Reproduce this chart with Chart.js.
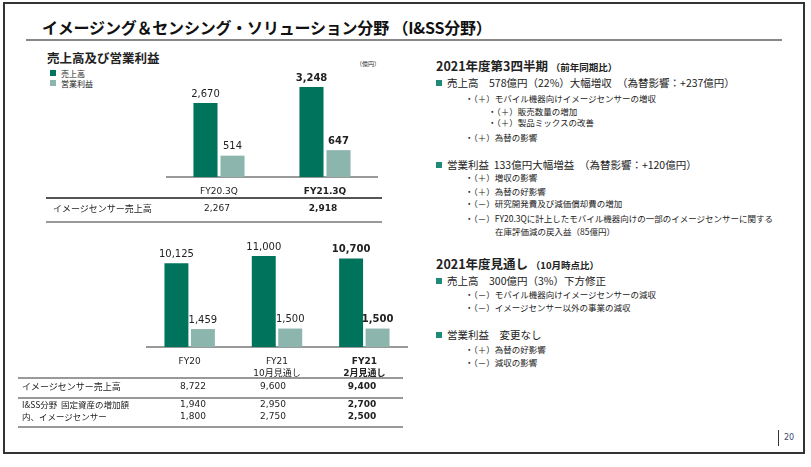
<!DOCTYPE html>
<html>
<head>
<meta charset="utf-8">
<script src="https://cdn.jsdelivr.net/npm/chart.js@4.4.0/dist/chart.umd.min.js"></script>
<style>
  html, body { margin: 0; padding: 0; background: #fff; }
  #slide { position: relative; width: 811px; height: 467px; overflow: hidden;
    font-family: "DejaVu Sans", "Noto Sans CJK JP", sans-serif; color: #222; }
  .abs { position: absolute; white-space: nowrap; line-height: 1; }
  .jp { font-family: "Noto Sans CJK JP", sans-serif; }
  .hr { position: absolute; height: 0; }
  .b { font-weight: bold; }
  .num { position: absolute; white-space: nowrap; line-height: 1; font-size: 9px; transform: translateX(-50%); }
  .sq { display: inline-block; width: 6px; height: 6px; background: #1f8a77; margin-right: 5px; vertical-align: 1px; }
</style>
</head>
<body>
<div id="slide">
  <div style="position:absolute;left:3px;top:2px;width:798px;height:448px;border:2px solid #333;"></div>
  <div class="abs jp b" style="left:42px;top:19px;font-size:16px;color:#111;letter-spacing:-0.2px;">イメージング＆センシング・ソリューション分野 （I&amp;SS分野）</div>
  <div class="hr" style="left:26px;top:39px;width:756px;border-top:2px solid #888;"></div>

  <!-- left panel -->
  <div class="abs jp b" style="left:47px;top:52px;font-size:12.5px;">売上高及び営業利益</div>
  <div class="abs jp" style="left:50px;top:70px;font-size:8px;"><span class="sq" style="background:#00735c;"></span>売上高</div>
  <div class="abs jp" style="left:50px;top:80px;font-size:8px;"><span class="sq" style="background:#8bb5ad;"></span>営業利益</div>
  <div class="abs jp" style="left:356px;top:61px;font-size:6px;">（億円）</div>

  <div style="position:absolute;left:166px;top:70px;width:212px;height:134px;"><canvas id="qChart"></canvas></div>

  <div class="hr" style="left:46px;top:197px;width:336px;border-top:2px solid #555;"></div>
  <div class="abs jp" style="left:53px;top:204px;font-size:9px;">イメージセンサー売上高</div>
  <div class="num" style="left:217px;top:204px;">2,267</div>
  <div class="num b" style="left:323px;top:204px;">2,918</div>
  <div class="hr" style="left:46px;top:221px;width:336px;border-top:2px solid #999;"></div>

  <div style="position:absolute;left:146px;top:240px;width:262px;height:142px;"><canvas id="fyChart"></canvas></div>

  <div class="hr" style="left:18px;top:377px;width:385px;border-top:2px solid #999;"></div>
  <div class="abs jp" style="left:22px;top:382px;font-size:9px;">イメージセンサー売上高</div>
  <div class="num" style="left:193px;top:382px;">8,722</div>
  <div class="num" style="left:273px;top:382px;">9,600</div>
  <div class="num b" style="left:362px;top:382px;">9,400</div>
  <div class="hr" style="left:18px;top:397px;width:385px;border-top:2px solid #999;"></div>
  <div class="abs jp" style="left:22px;top:400px;font-size:8.5px;">I&amp;SS分野 &nbsp;固定資産の増加額</div>
  <div class="num" style="left:193px;top:400px;">1,940</div>
  <div class="num" style="left:273px;top:400px;">2,950</div>
  <div class="num b" style="left:362px;top:400px;">2,700</div>
  <div class="abs jp" style="left:22px;top:412px;font-size:8.5px;">内、イメージセンサー</div>
  <div class="num" style="left:193px;top:412px;">1,800</div>
  <div class="num" style="left:273px;top:412px;">2,750</div>
  <div class="num b" style="left:362px;top:412px;">2,500</div>
  <div class="hr" style="left:18px;top:426px;width:385px;border-top:2px solid #999;"></div>

  <!-- right panel -->
  <div class="abs jp b" style="left:436px;top:60px;font-size:12.5px;">2021年度第3四半期 <span style="font-size:9.5px;">（前年同期比）</span></div>
  <div class="abs jp" style="left:436px;top:78px;font-size:10.5px;"><span class="sq"></span>売上高　578億円（22%）大幅増収　（為替影響：+237億円）</div>
  <div class="abs jp" style="left:465px;top:94px;font-size:8.5px;">・（＋）モバイル機器向けイメージセンサーの増収</div>
  <div class="abs jp" style="left:488px;top:107px;font-size:8.5px;">・（＋）販売数量の増加</div>
  <div class="abs jp" style="left:488px;top:118px;font-size:8.5px;">・（＋）製品ミックスの改善</div>
  <div class="abs jp" style="left:465px;top:133px;font-size:8.5px;">・（＋）為替の影響</div>

  <div class="abs jp" style="left:436px;top:160px;font-size:10.5px;"><span class="sq"></span>営業利益 &nbsp;133億円大幅増益 &nbsp;（為替影響：+120億円）</div>
  <div class="abs jp" style="left:465px;top:173px;font-size:8.5px;">・（＋）増収の影響</div>
  <div class="abs jp" style="left:465px;top:187px;font-size:8.5px;">・（＋）為替の好影響</div>
  <div class="abs jp" style="left:465px;top:199px;font-size:8.5px;">・（－）研究開発費及び減価償却費の増加</div>
  <div class="abs jp" style="left:465px;top:214px;font-size:8.5px;">・（－）FY20.3Qに計上したモバイル機器向けの一部のイメージセンサーに関する</div>
  <div class="abs jp" style="left:495px;top:227px;font-size:8.5px;">在庫評価減の戻入益（85億円）</div>

  <div class="abs jp b" style="left:436px;top:258px;font-size:12.5px;">2021年度見通し <span style="font-size:9.5px;">（10月時点比）</span></div>
  <div class="abs jp" style="left:436px;top:276px;font-size:10.5px;"><span class="sq"></span>売上高　300億円（3%）下方修正</div>
  <div class="abs jp" style="left:465px;top:290px;font-size:8.5px;">・（－）モバイル機器向けイメージセンサーの減収</div>
  <div class="abs jp" style="left:465px;top:303px;font-size:8.5px;">・（－）イメージセンサー以外の事業の減収</div>
  <div class="abs jp" style="left:436px;top:330px;font-size:10.5px;"><span class="sq"></span>営業利益　変更なし</div>
  <div class="abs jp" style="left:465px;top:345px;font-size:8.5px;">・（＋）為替の好影響</div>
  <div class="abs jp" style="left:465px;top:358px;font-size:8.5px;">・（－）減収の影響</div>

  <div class="hr" style="left:778px;top:430px;height:16px;border-left:1px solid #333;"></div>
  <div class="abs" style="left:784px;top:434px;font-size:8px;color:#3b4a6b;">20</div>
</div>

<script>
// quarter chart (億円)
const qLabels = ["FY20.3Q", "FY21.3Q"];
const qSales = [2670, 3248];
const qProfit = [514, 647];

// full-year chart (億円)
const fyLabels = [["FY20"], ["FY21", "10月見通し"], ["FY21", "2月見通し"]];
const fySales = [10125, 11000, 10700];
const fyProfit = [1459, 1500, 1500];

const DARK = "#00735c";
const LIGHT = "#8bb5ad";
const FONT = "'DejaVu Sans', 'Noto Sans CJK JP', sans-serif";

const valueLabels = {
  id: "valueLabels",
  afterDatasetsDraw(chart) {
    const c = chart.ctx;
    const last = chart.data.labels.length - 1;
    c.save();
    c.textAlign = "center";
    c.textBaseline = "bottom";
    c.fillStyle = "#222";
    chart.data.datasets.forEach((ds, i) => {
      chart.getDatasetMeta(i).data.forEach((bar, j) => {
        c.font = (j === last ? "bold " : "") + "10px " + FONT;
        c.fillText(ds.data[j].toLocaleString("en-US"), bar.x, bar.y - 4);
      });
    });
    c.restore();
  },
};

function makeChart(id, labels, sales, profit, salesMax, profitMax, catPct, barPct, axisH) {
  const last = labels.length - 1;
  return new Chart(document.getElementById(id).getContext("2d"), {
    type: "bar",
    data: {
      labels: labels,
      datasets: [
        { label: "売上高", data: sales, backgroundColor: DARK, yAxisID: "y" },
        { label: "営業利益", data: profit, backgroundColor: LIGHT, yAxisID: "y2" },
      ],
    },
    options: {
      responsive: true,
      maintainAspectRatio: false,
      animation: false,
      layout: { padding: 0 },
      datasets: { bar: { categoryPercentage: catPct, barPercentage: barPct } },
      scales: {
        x: {
          grid: { display: false, drawTicks: false },
          border: { display: true, color: "#999", width: 2 },
          ticks: {
            padding: 9,
            color: "#222",
            font: (ctx) => ({ family: FONT, size: 9, weight: ctx.index === last ? "bold" : "normal", lineHeight: 1.3 }),
          },
          afterFit: (scale) => { scale.height = axisH; },
        },
        y: { display: false, min: 0, max: salesMax },
        y2: { display: false, min: 0, max: profitMax },
      },
      plugins: { legend: { display: false }, tooltip: { enabled: false } },
    },
    plugins: [valueLabels],
  });
}

makeChart("qChart", qLabels, qSales, qProfit, 3863, 2578, 0.51, 0.89, 27);
makeChart("fyChart", fyLabels, fySales, fyProfit, 12938, 8699, 0.606, 0.905, 35);
</script>
</body>
</html>
